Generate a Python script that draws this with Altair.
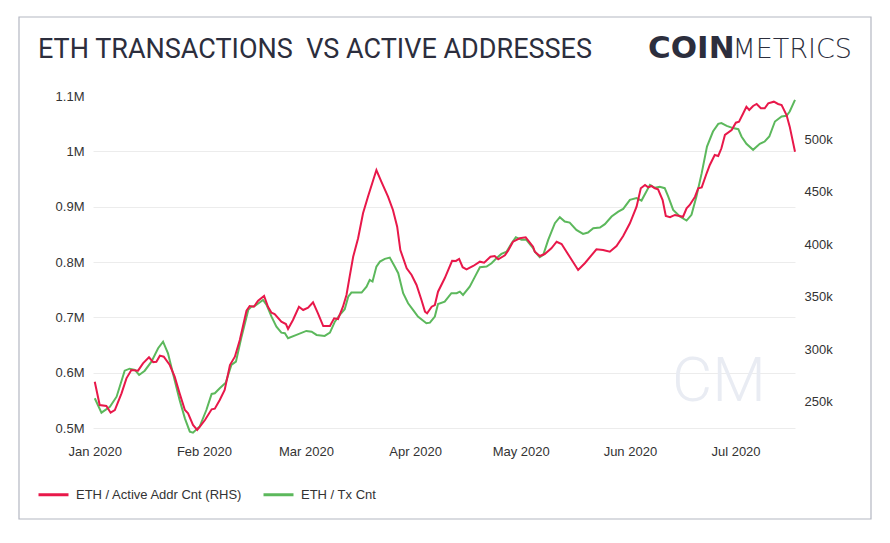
import altair as alt
import pandas as pd

TITLE = "ETH TRANSACTIONS\u00a0 VS ACTIVE ADDRESSES"
LOGO_BOLD = "COIN"
LOGO_LIGHT = "METRICS"
WATERMARK = "CM"
RED_NAME = "ETH / Active Addr Cnt (RHS)"
GREEN_NAME = "ETH / Tx Cnt"
RED = "#e8184a"
GREEN = "#5cb85c"
INK = "#2c2e3d"

# ETH / Tx Cnt (left axis, thousands of transactions); x = days since 2020-01-01
green_days = [
    0, 1.9, 4.3, 6.2, 8.5, 9.9, 11.4, 12.6, 14.2, 16.1,
    18.0, 19.4, 20.8, 22.2, 24.1, 25.6, 27.0, 27.9, 29.8, 31.7,
    33.2, 34.1, 35.5, 37.2, 38.8, 40.1, 41.7, 43.6, 44.5, 45.5,
    47.8, 48.8, 50.2, 51.6, 53.0, 54.0, 54.9, 57.3, 60.1, 61.6,
    63.0, 65.3, 66.8, 68.2, 69.6, 71.0, 72.0, 72.9, 75.8, 77.2,
    78.1, 78.9, 80.0, 81.0, 82.4, 83.8, 85.2, 86.2, 87.6, 89.0,
    90.4, 91.8, 94.2, 95.2, 96.6, 97.5, 99.4, 101.3, 102.8, 103.7,
    104.6, 106.5, 108.0, 109.4, 111.3, 112.7, 114.1, 115.5, 117.0, 118.4,
    119.6, 121.2, 122.6, 124.5, 125.0, 126.4, 127.4, 128.8, 130.7, 132.1,
    133.5, 134.9, 136.8, 138.7, 140.1, 141.6, 143.5, 144.9, 146.8, 148.7,
    150.1, 152.0, 153.9, 155.3, 157.7, 159.1, 160.5, 161.9, 162.9, 164.3,
    166.2, 168.1, 169.5, 170.9, 172.4, 173.9, 175.6, 177.1, 178.0, 179.5,
    181.3, 182.8, 183.7, 185.1, 187.0, 188.9, 190.3, 191.6, 193.2, 195.1,
    196.5, 197.4, 198.9,
]
green_vals = [
    553.7, 527.7, 538.5, 556.6, 603.6, 607.2, 604.9, 595.8, 603.6, 619.9,
    644.1, 656.1, 635.1, 598.9, 550.6, 517.5, 493.3, 491.5, 502.7, 532.5,
    561.5, 562.7, 571.8, 581.9, 613.9, 619.9, 665.1, 713.4, 719.3, 720.6,
    731.5, 722.4, 701.3, 683.2, 672.3, 671.2, 662.2, 668.2, 675.4, 674.1,
    668.2, 666.4, 672.3, 692.2, 704.3, 714.6, 737.4, 744.7, 744.7, 755.5,
    767.6, 764.6, 791.7, 800.7, 805.6, 808.0, 791.7, 779.7, 743.6, 725.5,
    713.4, 701.3, 689.3, 690.4, 701.3, 724.2, 728.4, 743.6, 743.6, 746.5,
    740.5, 755.5, 773.6, 790.6, 791.7, 797.8, 806.9, 814.6, 818.8, 834.0,
    844.8, 840.0, 840.0, 825.0, 818.8, 808.7, 812.8, 840.0, 870.2, 881.0,
    873.1, 871.2, 858.0, 850.8, 853.2, 861.1, 862.2, 868.4, 882.1, 891.1,
    896.0, 912.3, 915.4, 911.0, 939.4, 934.0, 935.8, 933.4, 918.3, 894.2,
    882.1, 874.9, 885.2, 918.3, 960.6, 1008.7, 1035.8, 1049.7, 1051.0, 1046.1,
    1042.0, 1040.1, 1026.8, 1013.6, 1002.7, 1013.6, 1017.7, 1026.8, 1053.9, 1062.9,
    1064.2, 1072.0, 1093.1,
]

# ETH / Active Addr Cnt (right axis, thousands of addresses)
red_days = [
    0, 1.4, 3.3, 4.5, 5.7, 7.6, 9.0, 10.4, 12.3, 13.7,
    15.4, 16.6, 17.5, 18.5, 19.6, 21.3, 22.7, 24.1, 25.6, 26.5,
    27.9, 29.1, 29.8, 31.3, 33.2, 34.1, 35.5, 36.9, 38.4, 39.8,
    41.2, 43.1, 44.0, 45.2, 46.4, 48.1, 49.2, 50.2, 51.1, 53.0,
    54.3, 54.9, 56.3, 58.0, 59.2, 60.6, 62.0, 63.4, 64.9, 66.8,
    68.0, 69.1, 70.5, 71.5, 72.4, 73.4, 74.8, 76.2, 77.6, 79.1,
    80.0, 81.4, 83.3, 84.7, 85.9, 86.8, 88.6, 90.0, 91.4, 92.8,
    93.8, 94.4, 95.7, 96.6, 97.5, 99.4, 101.5, 102.6, 103.5, 104.5,
    105.6, 107.5, 109.4, 110.6, 112.4, 113.6, 114.6, 116.5, 117.4, 118.8,
    120.7, 122.4, 124.5, 125.0, 126.4, 127.8, 129.7, 131.2, 132.6, 134.9,
    137.3, 139.2, 142.5, 144.4, 146.3, 148.2, 150.1, 152.0, 153.9, 155.1,
    156.3, 157.2, 158.1, 159.1, 160.0, 161.3, 162.2, 163.4, 164.8, 167.1,
    168.1, 169.0, 170.5, 171.4, 172.4, 173.8, 174.7, 176.1, 177.1, 178.0,
    179.0, 180.9, 182.1, 183.0, 184.2, 185.1, 185.9, 187.0, 188.0, 189.2,
    190.3, 191.3, 192.9, 194.1, 195.1, 196.5, 197.4, 198.9,
]
red_vals = [
    269.1, 246.9, 246.0, 239.6, 242.1, 258.0, 272.3, 280.2, 279.6, 286.6,
    292.3, 287.6, 288.1, 293.9, 292.9, 285.0, 273.9, 258.0, 242.1, 239.0,
    227.9, 223.1, 226.0, 232.6, 242.8, 243.4, 251.7, 261.2, 285.0, 292.9,
    308.8, 336.7, 341.2, 340.5, 346.2, 350.7, 340.5, 334.8, 333.6, 326.2,
    324.0, 319.3, 327.9, 340.5, 337.4, 339.6, 344.7, 334.2, 322.1, 322.1,
    329.5, 328.8, 340.5, 351.7, 369.1, 388.1, 405.7, 429.5, 445.3, 461.2,
    470.7, 459.6, 445.3, 432.6, 416.7, 394.5, 377.1, 370.7, 361.2, 346.9,
    335.8, 334.2, 340.5, 342.1, 354.8, 367.6, 384.3, 384.1, 386.0, 378.1,
    376.1, 379.3, 383.4, 382.4, 388.1, 388.8, 385.7, 389.5, 393.9, 402.4,
    405.7, 406.6, 397.7, 392.9, 388.8, 390.7, 396.1, 402.4, 400.2, 388.1,
    375.5, 381.9, 395.2, 394.5, 392.9, 398.3, 407.9, 420.0, 435.8, 453.3,
    456.4, 454.2, 455.5, 453.3, 452.3, 442.1, 426.9, 425.7, 427.9, 426.2,
    434.2, 437.4, 445.3, 453.3, 454.2, 467.6, 475.5, 485.0, 484.1, 491.4,
    504.1, 508.8, 515.8, 516.7, 524.7, 531.0, 527.9, 531.7, 533.6, 529.5,
    529.5, 534.2, 535.8, 533.6, 532.6, 523.1, 512.0, 488.1,
]

left_ticks = [500000, 600000, 700000, 800000, 900000, 1000000, 1100000]
right_ticks = [250000, 300000, 350000, 400000, 450000, 500000]
month_ticks = [alt.DateTime(year=2020, month=m, date=1) for m in range(1, 8)]

start = pd.Timestamp("2020-01-01")


def frame(days, vals, name):
    dates = (start + pd.to_timedelta(days, unit="D")).round("min")
    return pd.DataFrame({"date": dates, "value": [v * 1000 for v in vals], "series": name})


gdf = frame(green_days, green_vals, GREEN_NAME)
rdf = frame(red_days, red_vals, RED_NAME)

LABEL_FONT = "Liberation Sans"

x_enc = alt.X(
    "date:T",
    title=None,
    scale=alt.Scale(domain=[alt.DateTime(year=2019, month=12, date=31, hours=12),
                            alt.DateTime(year=2020, month=7, date=17, hours=21, minutes=36)]),
    axis=alt.Axis(values=month_ticks, format="%b %Y", domain=False, ticks=False, grid=False,
                  labelPadding=17, labelFont=LABEL_FONT, labelFontSize=13, labelColor="#333333"),
)

color_enc = alt.Color(
    "series:N",
    scale=alt.Scale(domain=[RED_NAME, GREEN_NAME], range=[RED, GREEN]),
    legend=alt.Legend(orient="none", legendX=-56, legendY=382, direction="horizontal", title=None,
                      symbolType="stroke", symbolSize=900, symbolStrokeWidth=3,
                      labelFont=LABEL_FONT, labelFontSize=13, labelColor="#333333", labelLimit=0,
                      columnPadding=14, labelOffset=6, padding=0),
)

green = alt.Chart(gdf).mark_line(strokeWidth=2).encode(
    x=x_enc,
    y=alt.Y("value:Q", title=None,
            scale=alt.Scale(domain=[500000, 1100000], nice=False, zero=False),
            axis=alt.Axis(orient="left", values=left_ticks, domain=False, ticks=False,
                          labelExpr="format(datum.value / 1000000, '~g') + 'M'",
                          labelPadding=9, labelFont=LABEL_FONT, labelFontSize=13, labelColor="#333333",
                          grid=True, gridColor="#ececec",
                          gridOpacity={"condition": {"test": "datum.value > 1050000", "value": 0}, "value": 1})),
    color=color_enc,
)

red = alt.Chart(rdf).mark_line(strokeWidth=2).encode(
    x=x_enc,
    y=alt.Y("value:Q", title=None,
            scale=alt.Scale(domain=[225000, 541200], nice=False, zero=False),
            axis=alt.Axis(orient="right", values=right_ticks, format="~s", domain=False, ticks=False,
                          labelPadding=9, labelFont=LABEL_FONT, labelFontSize=13, labelColor="#333333",
                          grid=False)),
    color=color_enc,
)

one = pd.DataFrame({"k": [0]})

border = alt.Chart(one).mark_rect(fillOpacity=0, stroke="#b4b7c2", strokeWidth=1.2).encode(
    x=alt.value(-74), x2=alt.value(778), y=alt.value(-79), y2=alt.value(423)
)

title = alt.Chart(pd.DataFrame({"t": [TITLE]})).mark_text(
    align="left", baseline="alphabetic", font="Roboto", fontSize=27, color=INK
).encode(text="t:N", x=alt.value(-55), y=alt.value(-38))

logo_bold = alt.Chart(pd.DataFrame({"t": [LOGO_BOLD]})).mark_text(
    align="left", baseline="alphabetic", font="DejaVu Sans", fontWeight="bold", fontSize=31, color=INK
).encode(text="t:N", x=alt.value(555), y=alt.value(-38))

logo_light = alt.Chart(pd.DataFrame({"t": [LOGO_LIGHT]})).mark_text(
    align="right", baseline="alphabetic", font="DejaVu Sans", fontWeight=200, fontSize=27, color=INK
).encode(text="t:N", x=alt.value(759), y=alt.value(-38))

watermark = alt.Chart(pd.DataFrame({"t": [WATERMARK]})).mark_text(
    align="center", baseline="alphabetic", font="Roboto", fontWeight=300, fontSize=62, color="#e9ecf3"
).encode(text="t:N", x=alt.value(626), y=alt.value(305))

chart = alt.layer(border, title, logo_bold, logo_light, watermark, green, red).resolve_scale(
    y="independent"
).properties(
    width=702, height=332,
    padding={"left": 85, "top": 88, "right": 87, "bottom": 107},
    autosize=alt.AutoSizeParams(type="none"),
    background="white",
).configure_view(stroke=None)

chart.save("out.html", embed_options={"renderer": "svg", "actions": False})
